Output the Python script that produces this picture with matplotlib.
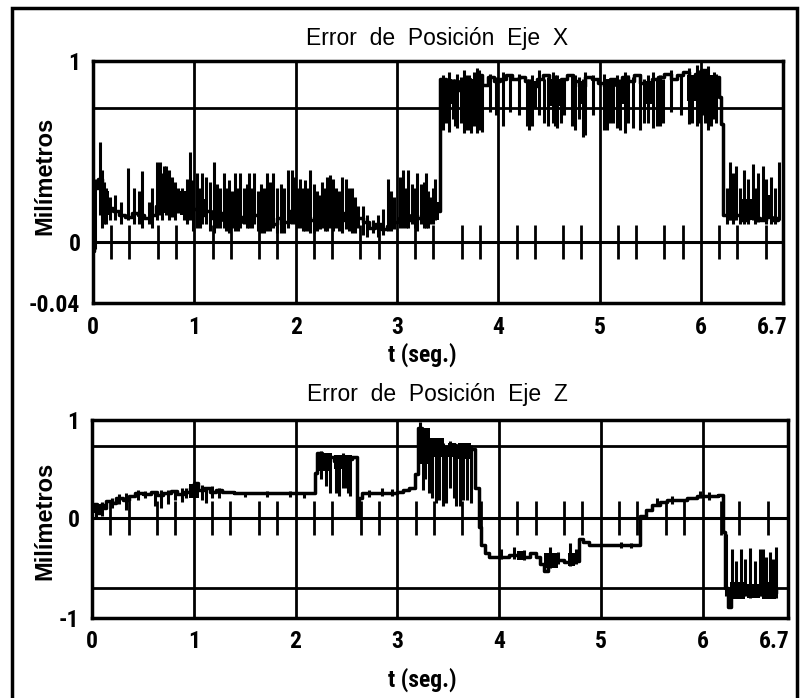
import matplotlib
matplotlib.use("Agg")
import matplotlib.pyplot as plt
from matplotlib.patches import Rectangle

# ---------------- data ----------------
x_ticks = [0, 1, 2, 3, 4, 5, 6, 6.7]
x_ticklabels = ["0", "1", "2", "3", "4", "5", "6", "6.7"]
marks = [0.18, 0.36, 0.64, 0.82, 1.18, 1.36, 1.64, 1.82, 2.18, 2.36, 2.64, 2.82,
         3.18, 3.36, 3.64, 3.82, 4.18, 4.36, 4.64, 4.82, 5.18, 5.36, 5.64, 5.82,
         6.18, 6.36, 6.64]

# Eje X : baseline (step) signal
xb_t = [0.00, 0.01, 0.05, 0.09, 0.14, 0.20, 0.26, 0.32, 0.38, 0.44, 0.50, 0.56,
        0.62, 0.68, 0.74, 0.80, 0.86, 0.92, 0.98, 1.04, 1.10, 1.16, 1.22, 1.28,
        1.34, 1.40, 1.46, 1.52, 1.58, 1.64, 1.70, 1.76, 1.82, 1.88, 1.94, 2.00,
        2.06, 2.12, 2.18, 2.24, 2.30, 2.36, 2.42, 2.48, 2.54, 2.60, 2.66, 2.72,
        2.78, 2.84, 2.90, 2.96, 3.02, 3.08, 3.14, 3.20, 3.26, 3.32, 3.38, 3.42,
        3.48, 3.54, 3.60, 3.66, 3.72, 3.78, 3.84, 3.90, 3.96, 4.02, 4.08, 4.14,
        4.20, 4.26, 4.32, 4.38, 4.44, 4.50, 4.56, 4.62, 4.68, 4.74, 4.80, 4.86,
        4.92, 4.98, 5.04, 5.10, 5.16, 5.22, 5.28, 5.34, 5.40, 5.46, 5.52, 5.58,
        5.64, 5.70, 5.76, 5.82, 5.88, 5.94, 6.00, 6.06, 6.12, 6.18, 6.20, 6.22,
        6.28, 6.34, 6.40, 6.46, 6.52, 6.58, 6.64, 6.70, 6.76]
xb_y = [-0.05, 0.30, 0.35, 0.22, 0.19, 0.17, 0.15, 0.14, 0.16, 0.15, 0.13, 0.15,
        0.20, 0.24, 0.22, 0.25, 0.20, 0.26, 0.18, 0.15, 0.17, 0.13, 0.16, 0.12,
        0.15, 0.11, 0.14, 0.12, 0.15, 0.11, 0.13, 0.10, 0.13, 0.11, 0.17, 0.22,
        0.15, 0.12, 0.14, 0.11, 0.15, 0.13, 0.12, 0.16, 0.12, 0.13, 0.11, 0.08,
        0.10, 0.07, 0.09, 0.11, 0.13, 0.12, 0.15, 0.13, 0.16, 0.14, 0.17, 0.90,
        0.86, 0.89, 0.84, 0.90, 0.88, 0.92, 0.87, 0.91, 0.89, 0.90, 0.92, 0.90,
        0.91, 0.89, 0.86, 0.90, 0.92, 0.88, 0.85, 0.90, 0.92, 0.89, 0.86, 0.91,
        0.90, 0.88, 0.86, 0.90, 0.87, 0.91, 0.89, 0.92, 0.88, 0.85, 0.90, 0.91,
        0.93, 0.90, 0.92, 0.94, 0.88, 0.93, 0.95, 0.90, 0.91, 0.80, 0.65, 0.15,
        0.13, 0.15, 0.12, 0.14, 0.13, 0.12, 0.14, 0.12, 0.13]

# Eje X : spikes (time, low, high)
xs_t = [0.02, 0.07, 0.09, 0.13, 0.17, 0.35, 0.40, 0.48, 0.55, 0.63, 0.66, 0.70,
        0.72, 0.78, 0.84, 0.88, 0.93, 0.96, 0.99, 1.03, 1.08, 1.12, 1.19, 1.25,
        1.29, 1.34, 1.40, 1.45, 1.49, 1.54, 1.59, 1.66, 1.72, 1.78, 1.86, 1.92,
        1.96, 1.99, 2.04, 2.09, 2.14, 2.21, 2.26, 2.31, 2.34, 2.40, 2.46, 2.50,
        2.56, 2.62, 2.70, 2.76, 2.86, 2.91, 2.97, 3.03, 3.06, 3.11, 3.15, 3.20,
        3.24, 3.29, 3.33, 3.38,
        0.11, 0.22, 0.28, 0.45, 0.58, 0.68, 0.75, 0.81, 0.90, 1.06, 1.15, 1.22,
        1.31, 1.37, 1.43, 1.52, 1.57, 1.63, 1.69, 1.75, 1.82, 1.89, 2.01, 2.07,
        2.12, 2.18, 2.24, 2.29, 2.37, 2.43, 2.53, 2.59, 2.66, 2.81, 2.94, 3.09,
        3.18, 3.27, 3.31, 3.36,
        3.45, 3.51, 3.55, 3.59, 3.63, 3.66, 3.71, 3.76, 3.79, 3.84, 3.92, 3.98,
        4.05, 4.12, 4.20, 4.28, 4.33, 4.40, 4.49, 4.54, 4.58, 4.65, 4.73, 4.80,
        4.86, 4.93, 5.04, 5.10, 5.17, 5.25, 5.33, 5.40, 5.48, 5.53, 5.60, 5.70,
        5.80, 5.88, 5.96, 6.02, 6.07, 6.13,
        3.48, 3.57, 3.68, 3.73, 3.81, 4.30, 4.45, 4.56, 4.62, 4.76, 4.84, 5.07,
        5.13, 5.20, 5.28, 5.44, 5.57, 5.63, 5.91, 5.99, 6.04, 6.10, 6.15,
        6.29, 6.35, 6.43, 6.51, 6.56, 6.61, 6.69, 6.77,
        6.26, 6.32, 6.39, 6.46, 6.53, 6.64, 6.73]
xs_lo = [-0.04, 0.15, 0.08, 0.10, 0.12, 0.12, 0.10, 0.08, 0.10, 0.12, 0.15, 0.18,
         0.15, 0.14, 0.16, 0.18, 0.10, 0.12, 0.06, 0.08, 0.10, 0.10, 0.05, 0.08,
         0.08, 0.05, 0.06, 0.08, 0.10, 0.08, 0.10, 0.05, 0.06, 0.08, 0.05, 0.08,
         0.10, 0.10, 0.08, 0.06, 0.05, 0.06, 0.08, 0.06, 0.08, 0.08, 0.05, 0.07,
         0.05, 0.08, 0.03, 0.05, 0.04, 0.06, 0.07, 0.08, 0.08, 0.08, 0.10, 0.06,
         0.10, 0.08, 0.10, 0.12,
         0.10, 0.12, 0.10, 0.10, 0.08, 0.12, 0.12, 0.12, 0.12, 0.08, 0.06, 0.08,
         0.06, 0.08, 0.06, 0.08, 0.08, 0.06, 0.05, 0.06, 0.05, 0.05, 0.08, 0.06,
         0.06, 0.05, 0.07, 0.06, 0.06, 0.06, 0.06, 0.05, 0.04, 0.03, 0.06, 0.08,
         0.08, 0.08, 0.08, 0.10,
         0.62, 0.61, 0.68, 0.63, 0.66, 0.60, 0.62, 0.64, 0.60, 0.61, 0.72, 0.70,
         0.64, 0.72, 0.70, 0.64, 0.64, 0.70, 0.64, 0.66, 0.63, 0.70, 0.64, 0.68,
         0.59, 0.70, 0.62, 0.66, 0.63, 0.60, 0.63, 0.62, 0.66, 0.63, 0.64, 0.72,
         0.70, 0.65, 0.64, 0.70, 0.62, 0.68,
         0.66, 0.64, 0.62, 0.60, 0.62, 0.62, 0.66, 0.64, 0.66, 0.62, 0.58, 0.62,
         0.66, 0.62, 0.66, 0.66, 0.64, 0.66, 0.66, 0.66, 0.66, 0.64, 0.66,
         0.12, 0.12, 0.10, 0.12, 0.11, 0.12, 0.10, 0.12,
         0.10, 0.10, 0.10, 0.10, 0.10, 0.10, 0.10]
xs_hi = [0.35, 0.55, 0.40, 0.30, 0.25, 0.41, 0.30, 0.39, 0.22, 0.44, 0.44, 0.42,
         0.42, 0.36, 0.30, 0.30, 0.35, 0.50, 0.34, 0.38, 0.38, 0.36, 0.44, 0.30,
         0.38, 0.34, 0.38, 0.38, 0.30, 0.38, 0.38, 0.32, 0.38, 0.38, 0.32, 0.40,
         0.40, 0.36, 0.35, 0.34, 0.40, 0.28, 0.33, 0.36, 0.37, 0.30, 0.36, 0.35,
         0.30, 0.20, 0.15, 0.12, 0.18, 0.35, 0.25, 0.36, 0.40, 0.40, 0.32, 0.38,
         0.32, 0.38, 0.25, 0.35,
         0.33, 0.26, 0.22, 0.28, 0.30, 0.38, 0.40, 0.33, 0.28, 0.30, 0.33, 0.32,
         0.30, 0.28, 0.30, 0.32, 0.30, 0.28, 0.30, 0.33, 0.30, 0.30, 0.30, 0.30,
         0.30, 0.32, 0.26, 0.30, 0.35, 0.28, 0.30, 0.25, 0.20, 0.15, 0.28, 0.30,
         0.30, 0.33, 0.28, 0.30,
         0.92, 0.94, 0.90, 0.93, 0.91, 0.95, 0.92, 0.94, 0.96, 0.90, 0.93, 0.91,
         0.94, 0.92, 0.93, 0.90, 0.92, 0.95, 0.91, 0.94, 0.92, 0.90, 0.93, 0.91,
         0.94, 0.92, 0.93, 0.90, 0.92, 0.94, 0.91, 0.93, 0.92, 0.94, 0.92, 0.95,
         0.93, 0.96, 0.98, 0.95, 0.97, 0.94,
         0.90, 0.90, 0.92, 0.90, 0.95, 0.90, 0.90, 0.92, 0.90, 0.92, 0.90, 0.90,
         0.90, 0.90, 0.92, 0.90, 0.90, 0.90, 0.92, 0.95, 0.95, 0.92, 0.93,
         0.44, 0.42, 0.40, 0.43, 0.38, 0.42, 0.36, 0.44,
         0.30, 0.38, 0.30, 0.35, 0.30, 0.35, 0.30]

# Eje X : dense noise blocks (start, end, low, high)
xn_t0 = [0.10, 0.62, 0.74, 0.86, 1.05, 1.95, 2.26, 3.24, 3.35,
         3.45, 3.74, 4.30, 4.50, 4.80, 5.05, 5.22, 5.44, 5.86, 6.02,
         6.26, 6.40, 6.60]
xn_t1 = [0.16, 0.72, 0.80, 0.92, 1.12, 2.02, 2.34, 3.32, 3.41,
         3.54, 3.86, 4.38, 4.62, 4.88, 5.15, 5.30, 5.54, 5.98, 6.16,
         6.34, 6.50, 6.70]
xn_lo = [0.15, 0.16, 0.18, 0.15, 0.14, 0.15, 0.10, 0.10, 0.12,
         0.76, 0.74, 0.74, 0.75, 0.76, 0.76, 0.76, 0.76, 0.78, 0.76,
         0.12, 0.12, 0.13]
xn_hi = [0.28, 0.28, 0.30, 0.28, 0.24, 0.26, 0.24, 0.22, 0.22,
         0.90, 0.90, 0.89, 0.90, 0.89, 0.90, 0.89, 0.89, 0.92, 0.92,
         0.20, 0.24, 0.26]

# Eje Z : baseline (step) signal
zb_t = [0.00, 0.02, 0.05, 0.08, 0.12, 0.14, 0.20, 0.24, 0.30, 0.36, 0.42, 0.50,
        0.58, 0.64, 0.70, 0.78, 0.84, 0.90, 0.96, 1.00, 1.04, 1.10, 1.16, 1.22,
        1.28, 1.40, 1.60, 1.80, 2.00, 2.19, 2.21, 2.26, 2.32, 2.38, 2.44, 2.50,
        2.56, 2.60, 2.62, 2.65, 2.80, 3.00, 3.06, 3.12, 3.17, 3.20, 3.24, 3.28,
        3.34, 3.40, 3.46, 3.52, 3.58, 3.64, 3.70, 3.76, 3.80, 3.82, 3.86, 3.90,
        4.00, 4.10, 4.20, 4.30, 4.36, 4.40, 4.44, 4.48, 4.56, 4.64, 4.72, 4.79,
        4.83, 4.88, 5.00, 5.20, 5.39, 5.44, 5.50, 5.58, 5.65, 5.80, 5.85, 5.95,
        6.05, 6.15, 6.20, 6.22, 6.25, 6.28, 6.35, 6.42, 6.50, 6.58, 6.66, 6.72]
zb_y = [0.08, 0.14, 0.05, 0.13, 0.10, 0.17, 0.15, 0.20, 0.18, 0.22, 0.25, 0.24,
        0.26, 0.23, 0.25, 0.27, 0.24, 0.26, 0.30, 0.35, 0.28, 0.30, 0.26, 0.28,
        0.26, 0.25, 0.25, 0.25, 0.25, 0.46, 0.66, 0.60, 0.62, 0.58, 0.62, 0.60,
        0.62, 0.02, 0.20, 0.25, 0.25, 0.26, 0.28, 0.30, 0.45, 0.92, 0.85, 0.80,
        0.78, 0.72, 0.70, 0.74, 0.70, 0.72, 0.70, 0.30, -0.10, -0.28, -0.36, -0.40,
        -0.40, -0.38, -0.40, -0.36, -0.40, -0.48, -0.55, -0.45, -0.44, -0.46, -0.45, -0.22,
        -0.25, -0.28, -0.28, -0.28, 0.02, 0.08, 0.13, 0.16, 0.18, 0.18, 0.20, 0.22,
        0.22, 0.23, -0.15, -0.72, -0.92, -0.75, -0.78, -0.74, -0.78, -0.75, -0.77, -0.75]

# Eje Z : spikes (time, low, high)
zs_t = [0.04, 0.10, 0.33, 0.62, 0.75, 0.92, 1.08, 1.18, 1.50, 1.72, 1.95, 2.08,
        2.25, 2.30, 2.40, 2.47, 2.54, 2.72, 2.85, 2.95, 3.22, 3.27, 3.31, 3.38,
        3.45, 3.52, 3.58, 3.65, 3.72, 4.02, 4.15, 4.25, 4.50, 4.58, 4.70, 4.76,
        5.20, 5.30, 5.55, 5.70, 5.98, 6.06, 6.23, 6.29, 6.38, 6.47, 6.56, 6.59,
        6.66, 6.72,
        0.20, 0.27, 0.45, 0.52, 0.68, 0.82, 0.88, 1.12, 1.25,
        2.34, 2.43, 2.50, 2.52, 3.25, 3.34, 3.41, 3.48, 3.56, 3.62, 3.69,
        6.33, 6.42, 6.52, 6.62, 6.69]
zs_lo = [0.00, 0.02, 0.08, 0.12, 0.14, 0.20, 0.18, 0.20, 0.21, 0.21, 0.21, 0.20,
         0.40, 0.32, 0.25, 0.30, 0.22, 0.21, 0.22, 0.22, 0.60, 0.40, 0.25, 0.15,
         0.12, 0.30, 0.12, 0.18, 0.15, -0.42, -0.42, -0.44, -0.52, -0.48, -0.50, -0.48,
         -0.31, -0.31, 0.12, 0.14, 0.20, 0.18, -0.80, -0.82, -0.80, -0.82, -0.80, -0.82,
         -0.80, -0.82,
         0.10, 0.14, 0.18, 0.20, 0.10, 0.18, 0.16, 0.15, 0.20,
         0.25, 0.22, 0.30, 0.25, 0.28, 0.20, 0.18, 0.15, 0.20, 0.12, 0.18,
         -0.80, -0.80, -0.80, -0.80, -0.80]
zs_hi = [0.15, 0.16, 0.25, 0.27, 0.28, 0.30, 0.33, 0.32, 0.26, 0.27, 0.27, 0.26,
         0.68, 0.64, 0.64, 0.66, 0.64, 0.28, 0.30, 0.29, 0.98, 0.88, 0.82, 0.80,
         0.76, 0.78, 0.74, 0.76, 0.74, -0.32, -0.30, -0.33, -0.30, -0.35, -0.26, -0.32,
         -0.25, -0.26, 0.20, 0.22, 0.27, 0.26, -0.17, -0.32, -0.32, -0.31, -0.32, -0.32,
         -0.35, -0.30,
         0.20, 0.24, 0.28, 0.27, 0.28, 0.28, 0.30, 0.30, 0.30,
         0.60, 0.62, 0.60, 0.62, 0.85, 0.80, 0.76, 0.74, 0.74, 0.75, 0.74,
         -0.45, -0.42, -0.45, -0.40, -0.42]

# Eje Z : dense noise blocks (start, end, low, high)
zn_t0 = [0.00, 0.95, 2.22, 2.38, 3.22, 3.32, 3.50, 3.60, 4.18, 4.44, 4.68,
         6.27, 6.44, 6.58]
zn_t1 = [0.05, 1.05, 2.36, 2.56, 3.32, 3.46, 3.58, 3.72, 4.26, 4.58, 4.75,
         6.42, 6.56, 6.72]
zn_lo = [0.05, 0.20, 0.48, 0.50, 0.55, 0.62, 0.62, 0.60, -0.44, -0.52, -0.50,
         -0.84, -0.82, -0.84]
zn_hi = [0.15, 0.34, 0.66, 0.64, 0.92, 0.82, 0.76, 0.76, -0.34, -0.36, -0.36,
         -0.66, -0.68, -0.66]

# ---------------- figure ----------------
plt.rcParams['font.family'] = ['Liberation Sans', 'DejaVu Sans']
fig = plt.figure(figsize=(8.0, 6.98), dpi=100)
fig.patches.append(Rectangle((12 / 800, -0.05), (797 - 12) / 800, 1.05 - 8 / 698,
                             transform=fig.transFigure, fill=False,
                             edgecolor='black', linewidth=2.5))

W, H = 800.0, 698.0
ax1 = fig.add_axes([93 / W, 1 - 303 / H, (783 - 93) / W, (303 - 61) / H])
ax2 = fig.add_axes([92 / W, 1 - 618 / H, (788 - 92) / W, (618 - 420) / H])

tick_font = dict(family=['Roboto Condensed', 'Liberation Sans', 'DejaVu Sans'],
                 weight='bold', size=17)


def style(ax, xmax, ylo, yticks, ylabels, hlines):
    ax.set_xlim(0, xmax)
    ax.set_ylim(ylo, 1)
    for s in ax.spines.values():
        s.set_linewidth(2.5)
    for v in [1, 2, 3, 4, 5, 6]:
        ax.axvline(v, color='black', lw=2, zorder=1)
    for h in hlines:
        ax.axhline(h, color='black', lw=2, zorder=1)
    ax.axhline(0, color='black', lw=2.2, zorder=1)
    ax.set_xticks(x_ticks)
    ax.set_xticklabels(x_ticklabels, fontdict=tick_font)
    ax.set_yticks(yticks)
    ax.set_yticklabels(ylabels, fontdict=tick_font)
    ax.tick_params(length=0, pad=9)


style(ax1, 6.81, -0.337, [1, 0, -0.337], ["1", "0", "-0.04"], [0.74])
style(ax2, 6.84, -1.03, [1, 0, -1.03], ["1", "0", "-1"], [0.73, -0.72])

# marks on the zero line
ax1.plot(marks, [0] * len(marks), ls='none', marker='|', ms=25, mew=2, color='black')
ax2.plot(marks, [0] * len(marks), ls='none', marker='|', ms=25, mew=2, color='black')

# Eje X signal
ax1.plot(xb_t, xb_y, drawstyle='steps-post', color='black', lw=2.5, zorder=3)
ax1.vlines(xs_t, xs_lo, xs_hi, color='black', lw=2.2, zorder=3)
for a, b, lo, hi in zip(xn_t0, xn_t1, xn_lo, xn_hi):
    ax1.fill_between([a, b], [lo, lo], [hi, hi], color='black', lw=0, zorder=3)

# Eje Z signal
ax2.plot(zb_t, zb_y, drawstyle='steps-post', color='black', lw=2.5, zorder=3)
ax2.vlines(zs_t, zs_lo, zs_hi, color='black', lw=2.2, zorder=3)
for a, b, lo, hi in zip(zn_t0, zn_t1, zn_lo, zn_hi):
    ax2.fill_between([a, b], [lo, lo], [hi, hi], color='black', lw=0, zorder=3)

title_font = dict(family=['Liberation Sans', 'DejaVu Sans'], size=16.5)
label_font = dict(family=['Roboto Condensed', 'Liberation Sans', 'DejaVu Sans'], size=17, weight='bold')
ylab_font = dict(family=['Liberation Sans', 'DejaVu Sans'], size=17, weight='bold')

fig.text(437 / W, 1 - 39 / H, "Error  de  Posición  Eje  X", ha='center', va='center', **title_font)
fig.text(437 / W, 1 - 395 / H, "Error  de  Posición  Eje  Z", ha='center', va='center', **title_font)
fig.text(422 / W, 1 - 355 / H, "t (seg.)", ha='center', va='center', **label_font)
fig.text(422 / W, 1 - 680 / H, "t (seg.)", ha='center', va='center', **label_font)
fig.text(45 / W, 1 - 176 / H, "Milímetros", rotation=90, ha='center', va='center', **ylab_font)
fig.text(45 / W, 1 - 521 / H, "Milímetros", rotation=90, ha='center', va='center', **ylab_font)

fig.savefig("out.png", dpi=100)
